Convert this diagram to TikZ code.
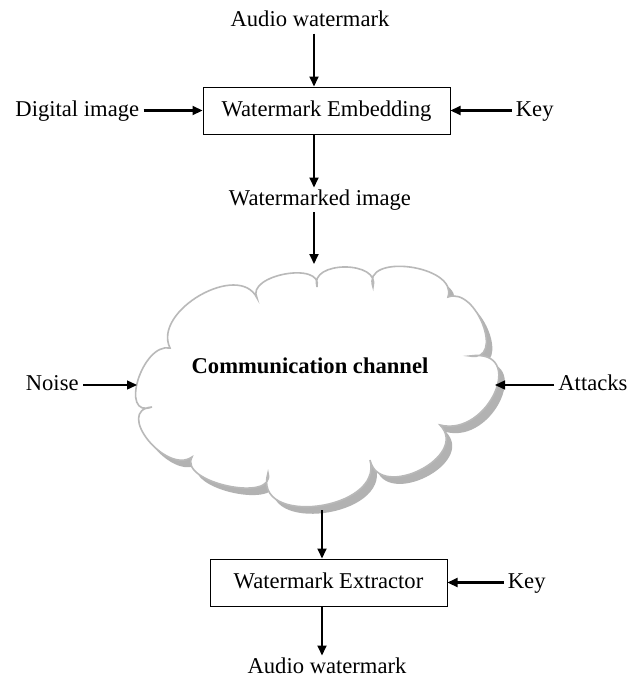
\documentclass[tikz,border=0pt]{standalone}
\usepackage{fontspec}
\setmainfont{Liberation Serif}
\usetikzlibrary{positioning, arrows.meta}

% outline of the channel cloud, one puff per curve
\newcommand{\cloudpath}{(152,407)
  .. controls (118.6,419.2) and (142,342.5) .. (170,348)
  .. controls (152,311) and (239,261) .. (257,298)
  .. controls (245.3,275) and (323.3,260.7) .. (317,287)
  .. controls (308.6,260.3) and (381.4,260.3) .. (373,287)
  .. controls (361,252.2) and (458.6,265.2) .. (448,297)
  .. controls (476.7,286.2) and (505.3,362.9) .. (470,356)
  .. controls (527.8,347.7) and (488.8,437.4) .. (440,425)
  .. controls (470.5,456.4) and (379.5,502) .. (370,460)
  .. controls (384,510.7) and (251.4,527.6) .. (268,473)
  .. controls (276.7,503.4) and (177.9,482.6) .. (192,457)
  .. controls (166,475.2) and (114,410.2) .. (152,407) -- cycle}

\begin{document}
\begin{tikzpicture}[
    x=0.5pt, y=-0.5pt,
    box/.style={rectangle, draw, line width=0.5pt, minimum height=23.5pt, text height=1.5ex, text depth=.25ex, font=\fontsize{11.3}{13.6}\selectfont},
    lbl/.style={inner sep=2pt, text height=1.5ex, text depth=.25ex, font=\fontsize{11.3}{13.6}\selectfont},
    arr/.style={-{Triangle[length=5pt, width=4.5pt]}, line width=0.9pt}
]
\path[use as bounding box, fill=white] (0,0) rectangle (641,680);

% Channel cloud with its shadow
\fill[gray!60, shift={(6,7)}] \cloudpath;
\draw[gray!55, line width=0.8pt, fill=white] \cloudpath;
\coordinate (cloudN) at (314,264);
\coordinate (cloudS) at (322,510);
\coordinate (cloudW) at (137,385);
\coordinate (cloudE) at (495,385);
\node[lbl, font=\fontsize{11.3}{13.6}\selectfont\bfseries] (chan) at (310,368) {Communication channel};

% Embedding side
\node[box, minimum width=123.5pt] (embed) at (326.5,110.5) {Watermark Embedding};
\node[lbl, above=26.5pt of embed, xshift=-8.25pt] (audioin) {Audio watermark};
\node[lbl, left=29.5pt of embed] (digital) {Digital image};
\node[lbl, right=30.5pt of embed] (key1) {Key};
\node[lbl, below=26.5pt of embed, xshift=-3.25pt] (marked) {Watermarked image};

% Channel inputs
\node[lbl, left=27pt of cloudW] (noise) {Noise};
\node[lbl, right=29.5pt of cloudE] (attacks) {Attacks};

% Extraction side
\node[box, minimum width=118.5pt] (extract) at (328.5,582.5) {Watermark Extractor};
\node[lbl, right=28pt of extract] (key2) {Key};
\node[lbl, below=24.5pt of extract, xshift=-0.75pt] (audioout) {Audio watermark};

% Connections
\draw[arr] (audioin.south -| cloudN) -- (embed.north -| cloudN);
\draw[arr, line width=1.1pt] (digital.east) -- (digital.east -| embed.west);
\draw[arr, line width=1.1pt] (key1.west) -- (key1.west -| embed.east);
\draw[arr] (embed.south -| cloudN) -- (marked.north -| cloudN);
\draw[arr] (marked.south -| cloudN) -- (cloudN);
\draw[arr, line width=0.7pt] (noise.east) -- (cloudW);
\draw[arr, line width=0.7pt] (attacks.west) -- (cloudE);
\draw[arr] (cloudS) -- (cloudS |- extract.north);
\draw[arr, line width=1.1pt] (key2.west) -- (key2.west -| extract.east);
\draw[arr] (extract.south -| cloudS) -- (audioout.north -| cloudS);

\end{tikzpicture}
\end{document}
